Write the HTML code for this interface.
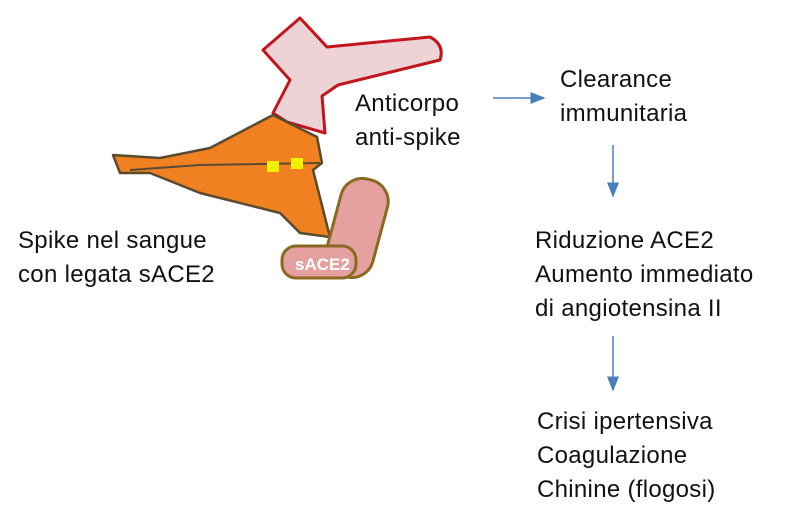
<!DOCTYPE html>
<html><head><style>
body{margin:0;width:799px;height:528px;background:#fff;overflow:hidden;position:relative;font-family:"Liberation Sans",sans-serif;}
.t{position:absolute;font-size:24px;color:#111;line-height:34px;white-space:nowrap;letter-spacing:0.3px}
</style></head><body>
<svg width="799" height="528" style="position:absolute;left:0;top:0">
<defs><marker id="a" markerWidth="10" markerHeight="10" refX="9" refY="5" orient="auto"><path d="M0,1 L10,5 L0,9z" fill="#4a7ebb"/></marker></defs>
<path d="M263,50 L300,18 L327,47 L430,37 Q445,45 440,60 L338,85 L322,96 L325,133 L287,122 L273,113 L290,80 Z" fill="#edd3d6" stroke="#c0161e" stroke-width="3" stroke-linejoin="round"/>
<path d="M113,155 L160,158 L210,148 L273,115 L317,137 L322,163 L313,170 L330,237 L300,233 L280,213 L200,193 L150,173 L120,173 Z" fill="#f08020" stroke="#5a4a30" stroke-width="2.5" stroke-linejoin="round"/>
<path d="M130,170 L200,165 L320,163" fill="none" stroke="#5a4a30" stroke-width="2"/>
<rect x="267" y="161" width="12" height="11" fill="#f0f000"/>
<rect x="291" y="158" width="12" height="11" fill="#f0f000"/>
<rect x="333" y="178" width="48" height="100" rx="22" transform="rotate(15 357 228)" fill="#e5a0a0" stroke="#8a6a20" stroke-width="3"/>
<rect x="282" y="246" width="74" height="32" rx="14" fill="#e5a0a0" stroke="#8a6a20" stroke-width="3"/>
<text x="295" y="270" font-family="Liberation Sans" font-weight="bold" font-size="17" fill="#fff">sACE2</text>
<line x1="493" y1="98" x2="544" y2="98" stroke="#4a7ebb" stroke-width="1.5" marker-end="url(#a)"/>
<line x1="613" y1="145" x2="613" y2="196" stroke="#4a7ebb" stroke-width="1.5" marker-end="url(#a)"/>
<line x1="613" y1="336" x2="613" y2="390" stroke="#4a7ebb" stroke-width="1.5" marker-end="url(#a)"/>
</svg>
<div class="t" style="left:355px;top:87px">Anticorpo<br>anti-spike</div>
<div class="t" style="left:560px;top:63px">Clearance<br>immunitaria</div>
<div class="t" style="left:18px;top:224px">Spike nel sangue<br>con legata sACE2</div>
<div class="t" style="left:535px;top:224px">Riduzione ACE2<br>Aumento immediato<br>di angiotensina II</div>
<div class="t" style="left:537px;top:405px">Crisi ipertensiva<br>Coagulazione<br>Chinine (flogosi)</div>
</body></html>
